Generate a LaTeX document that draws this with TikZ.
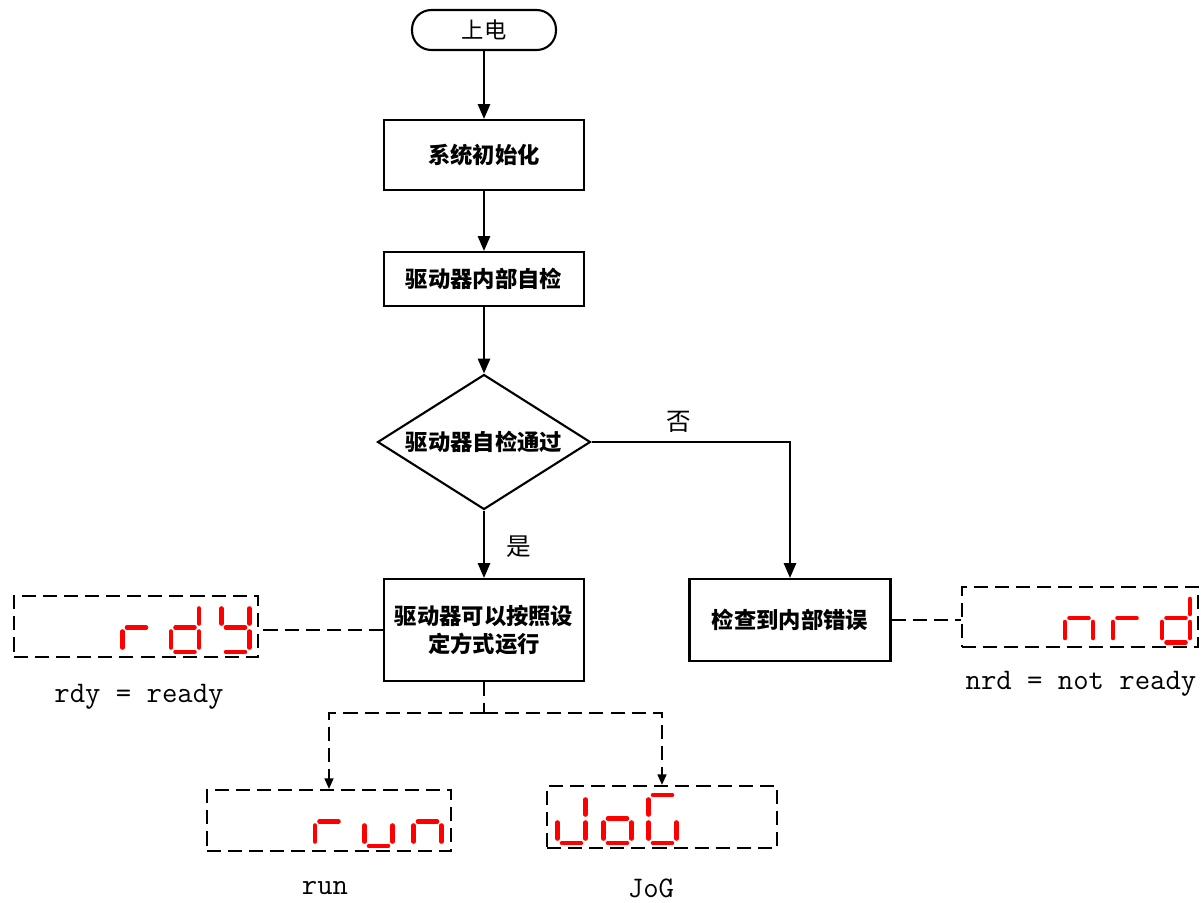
\documentclass[tikz,border=0pt]{standalone}
\usepackage{fontspec}
\newfontfamily\cjk{Noto Sans CJK SC}
\usetikzlibrary{arrows.meta,shapes.geometric,positioning}

\definecolor{ledred}{RGB}{255,0,0}

\tikzset{
  box/.style={draw,rectangle,minimum width=4cm,inner sep=2pt,align=center,
    font=\cjk\bfseries\fontsize{12.7}{16}\selectfont},
  terminal/.style={draw,rectangle,rounded corners=11pt,minimum width=2.88cm,
    minimum height=0.8cm,font=\cjk\fontsize{12.7}{16}\selectfont},
  decision/.style={draw,diamond,aspect=1.58,minimum width=4.26cm,minimum height=2.7cm,inner sep=0pt,
    font=\cjk\bfseries\fontsize{12.7}{16}\selectfont},
  panel/.style={draw,rectangle,dash pattern=on 8pt off 4pt,minimum width=4.88cm,minimum height=1.22cm},
  branch/.style={font=\cjk\fontsize{14}{16}\selectfont},
  caption/.style={font=\ttfamily\fontsize{17}{20}\selectfont},
  flow/.style={-{Triangle[length=8.5pt,width=7pt]}},
  link/.style={dash pattern=on 8pt off 4pt},
  linktip/.style={dash pattern=on 8pt off 4pt,-{Triangle[length=6pt,width=5pt]}},
  ledseg/.style={draw=ledred,line width=2.6pt,line cap=round}
}

\begin{document}
\begin{tikzpicture}[x=0.02cm,y=-0.02cm,line width=1.2pt]
\def\digitseg#1{%
  \if#1a\draw[ledseg] (4.5,0) -- (23.5,0);\fi
  \if#1b\draw[ledseg] (28,4.5) -- (28,19.5);\fi
  \if#1c\draw[ledseg] (28,27.5) -- (28,43.5);\fi
  \if#1d\draw[ledseg] (4.5,48) -- (23.5,48);\fi
  \if#1e\draw[ledseg] (0,27.5) -- (0,43.5);\fi
  \if#1f\draw[ledseg] (0,4.5) -- (0,19.5);\fi
  \if#1g\draw[ledseg] (4.5,23.5) -- (23.5,23.5);\fi}
\def\digit#1#2#3{\begin{scope}[shift={(#1,#2)}]\foreach \s in {#3}{\digitseg{\s}}\end{scope}}
\useasboundingbox (0,0) rectangle (1204,903);

  \node[terminal] (power) at (484,30) {上电};
  \node[box,minimum height=1.4cm] (init) at (484,155) {系统初始化};
  \node[box,minimum height=1.08cm] (selftest) at (484,279) {驱动器内部自检};
  \node[decision] (pass) at (484,442) {驱动器自检通过};
  \node[box,minimum height=2.04cm] (ready) at (484,630) {驱动器可以按照设\\定方式运行};
  \node[box,minimum width=4.02cm,minimum height=1.64cm] (fault) at (790,620) {检查到内部错误};

  \node[panel] (rdy) at (136,626.5) {};
  \node[panel,minimum width=4.72cm,minimum height=1.2cm] (nrd) at (1080,617) {};
  \node[panel] (run) at (329,820.5) {};
  \node[panel,minimum width=4.6cm,minimum height=1.24cm] (jog) at (662,817) {};

  \node[branch] (yes) at (519,547) {是};
  \node[branch] (no) at (679,422) {否};

  \node[caption] (rdytext) at (139,697) {rdy = ready};
  \node[caption] (nrdtext) at (1081,684) {nrd = not ready};
  \node[caption] (runtext) at (325,888) {run};
  \node[caption] (jogtext) at (651,888) {JoG};

  \draw[flow] (power) -- (init);
  \draw[flow] (init) -- (selftest);
  \draw[flow] (selftest) -- (pass);
  \draw[flow] (pass) -- (ready);
  \draw[flow] (pass.east) -| (fault.north);

  \draw[link] (ready.west) -- (ready.west -| rdy.east);
  \draw[link] (fault.east) -- (fault.east -| nrd.west);
  \coordinate (split) at (484,713);
  \draw[link] (ready.south) -- (split);
  \draw[linktip] (split) -| (run.north);
  \draw[linktip] (split) -| (jog.north);

  \digit{122.5}{604}{e,g}
  \digit{171}{604}{b,c,d,e,g}
  \digit{221.5}{604}{b,c,d,f,g}

  \digit{1065}{594.5}{c,e,g}
  \digit{1113}{594.5}{e,g}
  \digit{1162}{594.5}{b,c,d,e,g}

  \digit{315}{798}{e,g}
  \digit{364.5}{798}{c,d,e}
  \digit{413.5}{798}{c,e,g}

  \digit{557.5}{795}{b,c,d,e}
  \digit{603.5}{795}{c,d,e,g}
  \digit{648.5}{795}{a,c,d,e,f}
\end{tikzpicture}
\end{document}
